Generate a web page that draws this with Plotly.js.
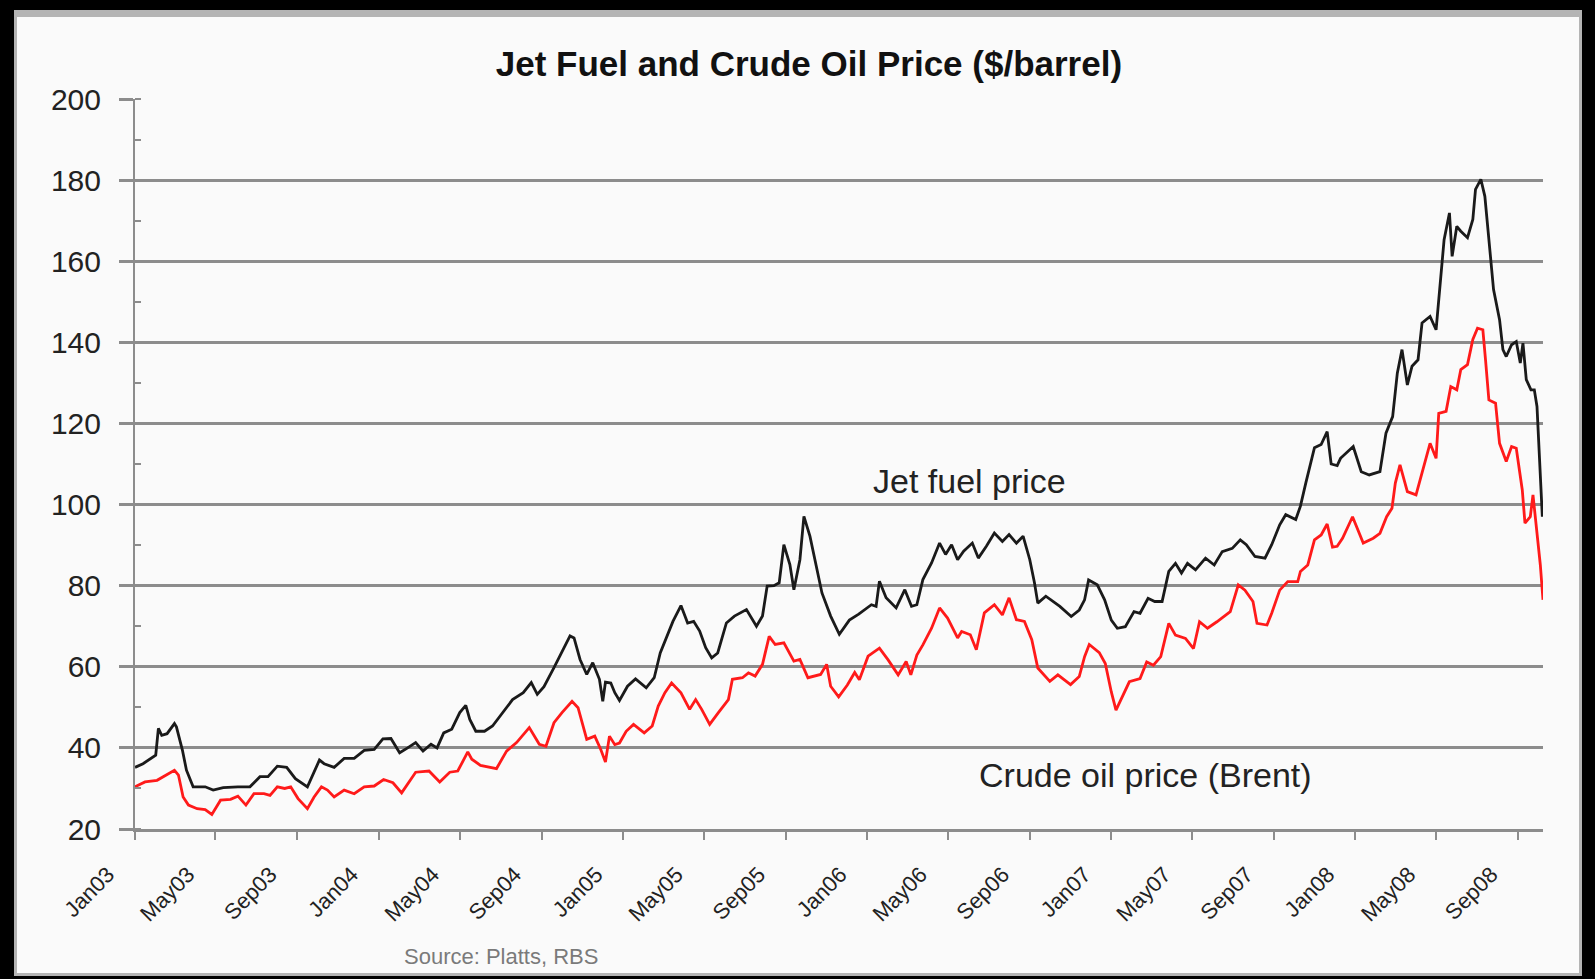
<!DOCTYPE html>
<html>
<head>
<meta charset="utf-8">
<script src="https://cdn.plot.ly/plotly-3.0.1.min.js"></script>
<style>
  html, body { margin: 0; padding: 0; background: #000; width: 1595px; height: 979px; overflow: hidden; }
  #frame { position: absolute; left: 14px; top: 10px; width: 1568px; height: 966px; box-sizing: border-box;
           border: 3px solid #b4b4b4; border-top-width: 7px; background: #fafafa; }
  #chart { position: absolute; left: 0; top: 0; width: 1562px; height: 956px; }
</style>
</head>
<body>
<div id="frame"><div id="chart"></div></div>
<script>
// ---- Data ----
const jetDates = [
  '2003-01-01','2003-01-13','2003-02-01','2003-02-05','2003-02-10','2003-02-18','2003-03-01','2003-03-04','2003-03-13','2003-03-19',
  '2003-03-29','2003-04-16','2003-04-28','2003-05-13','2003-06-04','2003-06-22','2003-07-07','2003-07-19','2003-08-02','2003-08-16',
  '2003-08-29','2003-09-16','2003-10-04','2003-10-11','2003-10-26','2003-11-10','2003-11-25','2003-12-10','2003-12-25','2004-01-07',
  '2004-01-19','2004-02-01','2004-02-13','2004-02-25','2004-03-07','2004-03-19','2004-03-28','2004-04-07','2004-04-19','2004-05-01',
  '2004-05-10','2004-05-16','2004-05-25','2004-06-07','2004-06-19','2004-07-04','2004-07-19','2004-08-04','2004-08-16','2004-08-25',
  '2004-09-04','2004-09-19','2004-09-28','2004-10-13','2004-10-19','2004-10-28','2004-11-07','2004-11-16','2004-11-26','2004-12-01',
  '2004-12-05','2004-12-13','2004-12-19','2004-12-26','2005-01-07','2005-01-19','2005-02-04','2005-02-16','2005-02-25','2005-03-07',
  '2005-03-16','2005-03-28','2005-04-07','2005-04-16','2005-04-25','2005-05-04','2005-05-13','2005-05-22','2005-06-04','2005-06-16',
  '2005-07-04','2005-07-19','2005-07-28','2005-08-04','2005-08-14','2005-08-22','2005-08-29','2005-09-07','2005-09-13','2005-09-22',
  '2005-09-28','2005-10-07','2005-10-16','2005-10-25','2005-11-07','2005-11-20','2005-12-05','2005-12-19','2006-01-07','2006-01-14',
  '2006-01-19','2006-01-29','2006-02-13','2006-02-26','2006-03-08','2006-03-16','2006-03-25','2006-04-07','2006-04-19','2006-04-28',
  '2006-05-07','2006-05-16','2006-05-25','2006-06-07','2006-06-16','2006-06-28','2006-07-10','2006-07-22','2006-08-01','2006-08-12',
  '2006-08-22','2006-09-01','2006-09-08','2006-09-13','2006-09-25','2006-10-16','2006-11-02','2006-11-14','2006-11-22','2006-11-28',
  '2006-12-11','2006-12-22','2007-01-01','2007-01-10','2007-01-22','2007-02-04','2007-02-13','2007-02-25','2007-03-07','2007-03-18',
  '2007-03-28','2007-04-07','2007-04-16','2007-04-25','2007-05-07','2007-05-22','2007-06-04','2007-06-16','2007-07-01','2007-07-13',
  '2007-07-22','2007-08-04','2007-08-19','2007-08-29','2007-09-10','2007-09-19','2007-10-04','2007-10-11','2007-10-19','2007-10-25',
  '2007-11-01','2007-11-11','2007-11-20','2007-11-26','2007-12-05','2007-12-10','2007-12-19','2007-12-29','2008-01-10','2008-01-22',
  '2008-02-07','2008-02-16','2008-02-26','2008-03-04','2008-03-11','2008-03-19','2008-03-26','2008-04-04','2008-04-10','2008-04-22',
  '2008-05-01','2008-05-04','2008-05-09','2008-05-13','2008-05-21','2008-05-25','2008-06-01','2008-06-07','2008-06-17','2008-06-25',
  '2008-06-29','2008-07-07','2008-07-13','2008-07-17','2008-07-22','2008-07-26','2008-08-04','2008-08-09','2008-08-14','2008-08-22',
  '2008-08-29','2008-09-04','2008-09-08','2008-09-13','2008-09-20','2008-09-25','2008-09-29','2008-10-02','2008-10-07'
];
const jetPrice = [
  35.2,36.1,38.2,44.8,43.1,43.5,46.0,45.2,39.4,34.5,
  30.4,30.4,29.6,30.2,30.4,30.4,32.9,32.9,35.5,35.2,
  32.4,30.4,37.0,36.1,35.2,37.4,37.4,39.4,39.6,42.2,
  42.3,38.8,40.0,41.3,39.2,40.9,40.0,43.7,44.6,48.7,
  50.5,47.0,44.1,44.1,45.4,48.7,51.9,53.6,56.1,53.2,
  55.1,59.8,62.6,67.6,67.1,61.8,58.1,61.0,56.9,51.5,
  56.2,56.0,53.6,51.7,55.2,57.0,54.8,57.3,63.4,67.5,
  71.2,75.1,70.8,71.2,68.8,64.7,62.2,63.4,70.8,72.5,
  74.1,70.0,72.5,79.9,80.0,80.7,90.1,85.2,79.0,86.4,
  97.1,92.2,84.8,78.2,72.5,68.0,71.5,73.0,75.3,74.9,
  81.1,77.0,74.5,79.0,74.9,75.3,81.5,85.6,90.5,87.7,
  90.1,86.4,88.5,90.5,86.8,89.7,93.0,90.9,92.6,90.5,
  92.2,86.4,80.7,75.7,77.4,74.9,72.4,74.0,76.5,81.4,
  80.2,76.5,71.5,69.5,69.9,73.6,73.2,76.9,76.1,76.1,
  83.5,85.5,83.1,85.5,83.9,86.8,85.1,88.4,89.2,91.3,
  90.1,87.2,86.8,90.1,95.0,97.5,96.3,99.6,105.3,109.0,
  114.0,114.8,118.0,110.0,109.6,111.4,112.7,114.3,108.1,107.3,
  108.1,117.6,121.7,132.4,138.2,129.5,134.1,135.7,144.8,146.4,
  143.1,148.9,159.6,165.3,171.9,161.2,168.6,167.4,165.8,170.3,
  177.7,180.2,176.0,168.6,160.4,153.0,145.6,138.2,136.5,139.4,
  140.2,134.9,139.8,130.8,128.3,128.3,124.2,113.5,97.0
];

const crudeDates = [
  '2003-01-01','2003-01-16','2003-02-03','2003-02-17','2003-03-01','2003-03-07','2003-03-14','2003-03-22','2003-04-04','2003-04-16',
  '2003-04-26','2003-05-09','2003-05-24','2003-06-04','2003-06-16','2003-06-28','2003-07-13','2003-07-22','2003-08-02','2003-08-13',
  '2003-08-22','2003-09-02','2003-09-16','2003-09-26','2003-10-07','2003-10-16','2003-10-26','2003-11-10','2003-11-25','2003-12-10',
  '2003-12-25','2004-01-08','2004-01-22','2004-02-04','2004-02-25','2004-03-16','2004-04-01','2004-04-16','2004-04-28','2004-05-13',
  '2004-05-19','2004-06-01','2004-06-25','2004-07-10','2004-07-25','2004-08-13','2004-08-28','2004-09-07','2004-09-19','2004-10-01',
  '2004-10-16','2004-10-25','2004-11-07','2004-11-19','2004-11-28','2004-12-05','2004-12-11','2004-12-19','2004-12-26','2005-01-05',
  '2005-01-16','2005-02-01','2005-02-13','2005-02-22','2005-03-04','2005-03-14','2005-03-28','2005-04-10','2005-04-19','2005-04-28',
  '2005-05-10','2005-05-23','2005-06-07','2005-06-13','2005-06-28','2005-07-07','2005-07-17','2005-07-28','2005-08-07','2005-08-16',
  '2005-08-29','2005-09-13','2005-09-22','2005-10-04','2005-10-16','2005-10-23','2005-11-01','2005-11-07','2005-11-19','2005-12-02',
  '2005-12-13','2005-12-20','2006-01-02','2006-01-19','2006-02-01','2006-02-16','2006-02-28','2006-03-07','2006-03-16','2006-03-25',
  '2006-04-07','2006-04-19','2006-05-01','2006-05-16','2006-05-22','2006-06-04','2006-06-13','2006-06-25','2006-07-10','2006-07-22',
  '2006-08-01','2006-08-12','2006-08-24','2006-09-04','2006-09-13','2006-10-01','2006-10-13','2006-11-01','2006-11-14','2006-11-22',
  '2006-11-29','2006-12-14','2006-12-23','2007-01-01','2007-01-08','2007-01-19','2007-01-28','2007-02-13','2007-02-23','2007-03-05',
  '2007-03-16','2007-03-28','2007-04-07','2007-04-22','2007-05-04','2007-05-13','2007-05-25','2007-06-08','2007-06-22','2007-06-28',
  '2007-07-10','2007-07-20','2007-08-01','2007-08-07','2007-08-22','2007-08-29','2007-09-10','2007-09-22','2007-10-07','2007-10-11',
  '2007-10-22','2007-11-01','2007-11-11','2007-11-20','2007-11-28','2007-12-05','2007-12-13','2007-12-28','2008-01-13','2008-01-28',
  '2008-02-07','2008-02-17','2008-02-25','2008-03-01','2008-03-08','2008-03-19','2008-04-01','2008-04-10','2008-04-22','2008-05-01',
  '2008-05-05','2008-05-16','2008-05-23','2008-06-01','2008-06-07','2008-06-17','2008-06-25','2008-07-02','2008-07-10','2008-07-14',
  '2008-07-19','2008-07-29','2008-08-04','2008-08-14','2008-08-22','2008-08-29','2008-09-07','2008-09-11','2008-09-19','2008-09-23',
  '2008-09-28','2008-10-04','2008-10-08'
];
const crudePrice = [
  30.4,31.6,32.0,33.3,34.5,33.3,27.9,25.9,25.0,24.8,
  23.6,27.1,27.3,28.1,25.9,28.7,28.7,28.3,30.4,30.0,
  30.4,27.5,25.0,27.9,30.4,29.6,27.9,29.6,28.7,30.4,
  30.6,32.2,31.4,28.9,34.0,34.3,31.6,34.0,34.3,39.0,
  37.2,35.7,34.9,39.2,41.3,45.0,40.9,40.4,46.2,48.7,
  51.5,49.9,42.1,42.9,39.6,36.5,42.9,40.8,41.2,44.1,
  45.8,43.7,45.4,50.3,53.6,56.0,53.6,49.5,51.9,49.5,
  45.8,48.7,51.9,56.9,57.3,58.5,57.7,60.6,67.5,65.5,
  65.9,61.4,61.8,57.3,57.7,58.1,60.6,55.2,52.6,55.5,
  58.6,56.8,62.6,64.6,61.7,58.0,61.3,58.0,62.9,65.4,
  69.5,74.5,72.0,67.1,68.7,67.9,64.2,73.3,75.3,72.8,
  77.0,71.6,71.2,66.7,59.7,56.4,58.0,55.6,57.6,62.5,
  65.5,63.5,60.8,53.8,49.3,53.4,56.3,57.1,61.2,60.4,
  62.5,70.7,67.8,67.0,64.5,71.1,69.5,71.1,72.8,73.6,
  80.2,78.9,76.1,70.7,70.3,73.2,78.9,81.0,81.0,83.5,
  85.1,91.3,92.5,95.2,89.5,89.7,91.7,97.0,90.5,91.7,
  92.9,97.0,99.1,105.3,109.8,103.2,102.4,107.7,115.1,111.4,
  122.5,123.0,129.1,128.3,133.3,134.5,140.7,143.5,143.1,135.7,
  125.8,125.0,115.1,110.6,114.3,113.9,103.6,95.4,97.0,102.4,
  94.6,85.1,76.5
];

const tickDates = ['2003-01-01','2003-05-01','2003-09-01','2004-01-01','2004-05-01','2004-09-01',
  '2005-01-01','2005-05-01','2005-09-01','2006-01-01','2006-05-01','2006-09-01',
  '2007-01-01','2007-05-01','2007-09-01','2008-01-01','2008-05-01','2008-09-01'];
const tickLabels = ['Jan03','May03','Sep03','Jan04','May04','Sep04','Jan05','May05','Sep05',
  'Jan06','May06','Sep06','Jan07','May07','Sep07','Jan08','May08','Sep08'];
const yTicks = [20, 40, 60, 80, 100, 120, 140, 160, 180, 200];

const chartTitle = 'Jet Fuel and Crude Oil Price ($/barrel)';
const jetLabel = 'Jet fuel price';
const crudeLabel = 'Crude oil price (Brent)';
const sourceText = 'Source: Platts, RBS';

// ---- Chart ----
const FONT = 'Arial, "Liberation Sans", Helvetica, sans-serif';
const GRID = '#8c8c8c';

const traces = [
  { x: jetDates, y: jetPrice, type: 'scatter', mode: 'lines', name: jetLabel,
    line: { color: '#1a1a1a', width: 2.8 }, hoverinfo: 'skip' },
  { x: crudeDates, y: crudePrice, type: 'scatter', mode: 'lines', name: crudeLabel,
    line: { color: '#ff1a1a', width: 2.8 }, hoverinfo: 'skip' }
];

const layout = {
  width: 1562, height: 956,
  margin: { l: 118, r: 36, t: 82, b: 144 },
  paper_bgcolor: '#fafafa', plot_bgcolor: '#fafafa',
  showlegend: false,
  font: { family: FONT, color: '#222' },
  title: { text: '<b>' + chartTitle + '</b>', font: { family: FONT, size: 35, color: '#111' },
           x: 0.507, xanchor: 'center', y: 0.951, yanchor: 'middle' },
  xaxis: {
    type: 'date', range: ['2003-01-01', '2008-10-08'],
    tickmode: 'array', tickvals: tickDates, ticktext: tickLabels, tickangle: -45,
    tickfont: { family: FONT, size: 22, color: '#222' },
    ticks: 'outside', ticklen: 8, tickwidth: 2, tickcolor: GRID,
    ticklabelshift: -27, ticklabelstandoff: 13,
    showgrid: false, zeroline: false,
    showline: true, linecolor: GRID, linewidth: 3
  },
  yaxis: {
    range: [20, 200], tickmode: 'array', tickvals: yTicks,
    tickfont: { family: FONT, size: 30, color: '#222' },
    ticks: 'outside', ticklen: 14, tickwidth: 3, tickcolor: GRID,
    ticklabelstandoff: 12,
    showgrid: true, gridcolor: GRID, gridwidth: 3, zeroline: false,
    showline: true, linecolor: GRID, linewidth: 2,
    minor: { dtick: 10, ticks: 'inside', ticklen: 6, tickwidth: 2, tickcolor: GRID, showgrid: false }
  },
  annotations: [
    { x: '2006-06-03', y: 105.8, xref: 'x', yref: 'y', text: jetLabel, showarrow: false,
      font: { family: FONT, size: 34, color: '#222' }, xanchor: 'center', yanchor: 'middle' },
    { x: '2007-02-21', y: 33.3, xref: 'x', yref: 'y', text: crudeLabel, showarrow: false,
      font: { family: FONT, size: 34, color: '#222' }, xanchor: 'center', yanchor: 'middle' },
    { x: 0.26, y: -0.174, xref: 'paper', yref: 'paper', text: sourceText, showarrow: false,
      font: { family: FONT, size: 22, color: '#7a7a7a' }, xanchor: 'center', yanchor: 'middle' }
  ]
};

Plotly.newPlot('chart', traces, layout, { staticPlot: true, displayModeBar: false });
</script>
</body>
</html>
